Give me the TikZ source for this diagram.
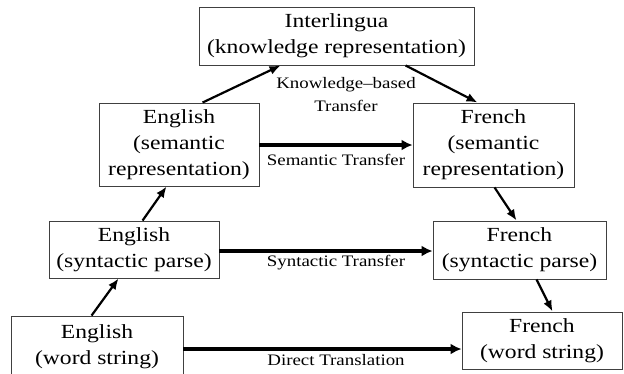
\documentclass[tikz,border=0pt]{standalone}
\usepackage{fontspec}
\setmainfont{Liberation Serif}[FakeStretch=1.18]
\usetikzlibrary{arrows.meta}
\begin{document}
\begin{tikzpicture}[x=1pt,y=-1pt,
  box/.style={draw=black!75,line width=0.9pt,inner sep=0pt,align=center,
    font=\fontsize{20}{26}\selectfont},
  lbl/.style={inner sep=0pt,align=center,font=\fontsize{16}{23}\selectfont},
  thinarr/.style={line width=2.2pt,-{Latex[length=11pt,width=9pt]}},
  thickarr/.style={line width=3.8pt,-{Latex[length=11pt,width=11pt]}}]
\useasboundingbox (0,0) rectangle (624,373);
\node[box,minimum width=275pt,minimum height=58pt] (inter) at (336.5,36) {Interlingua\\(knowledge representation)};
\node[box,minimum width=160pt,minimum height=83pt] (esem) at (179,144.5) {English\\(semantic\\representation)};
\node[box,minimum width=161pt,minimum height=84pt] (fsem) at (493.5,145) {French\\(semantic\\representation)};
\node[box,minimum width=170pt,minimum height=57pt] (esyn) at (134,249.5) {English\\(syntactic parse)};
\node[box,minimum width=173pt,minimum height=58pt] (fsyn) at (519.5,250) {French\\(syntactic parse)};
\node[box,minimum width=172pt,minimum height=62pt] (eword) at (97,347) {English\\(word string)};
\node[box,minimum width=160pt,minimum height=57pt] (fword) at (542,340.5) {French\\(word string)};
\node[lbl] (kb) at (346,95) {Knowledge--based\\Transfer};
\node[lbl] (st) at (336,160) {Semantic Transfer};
\node[lbl] (sy) at (336,263) {Syntactic Transfer};
\node[lbl] (dt) at (336,360) {Direct Translation};
\draw[thinarr] ([xshift=104pt]esem.north west) -- ([xshift=82pt]inter.south west);
\draw[thinarr] ([xshift=207pt]inter.south west) -- ([xshift=65pt]fsem.north west);
\draw[thickarr] ([yshift=-0.5pt]esem.east) -- ([yshift=-0.5pt]esem.east -| fsem.west);
\draw[thinarr] ([xshift=94pt]esyn.north west) -- ([xshift=68pt]esem.south west);
\draw[thinarr] ([xshift=82pt]fsem.south west) -- ([xshift=84pt]fsyn.north west);
\draw[thickarr] ([yshift=-1.5pt]esyn.east) -- ([yshift=-1.5pt]esyn.east -| fsyn.west);
\draw[thinarr] ([xshift=81pt]eword.north west) -- ([xshift=70pt]esyn.south west);
\draw[thinarr] ([xshift=104pt]fsyn.south west) -- ([xshift=91pt]fword.north west);
\draw[thickarr] ([yshift=-2pt]eword.east) -- ([yshift=-2pt]eword.east -| fword.west);
\end{tikzpicture}
\end{document}
